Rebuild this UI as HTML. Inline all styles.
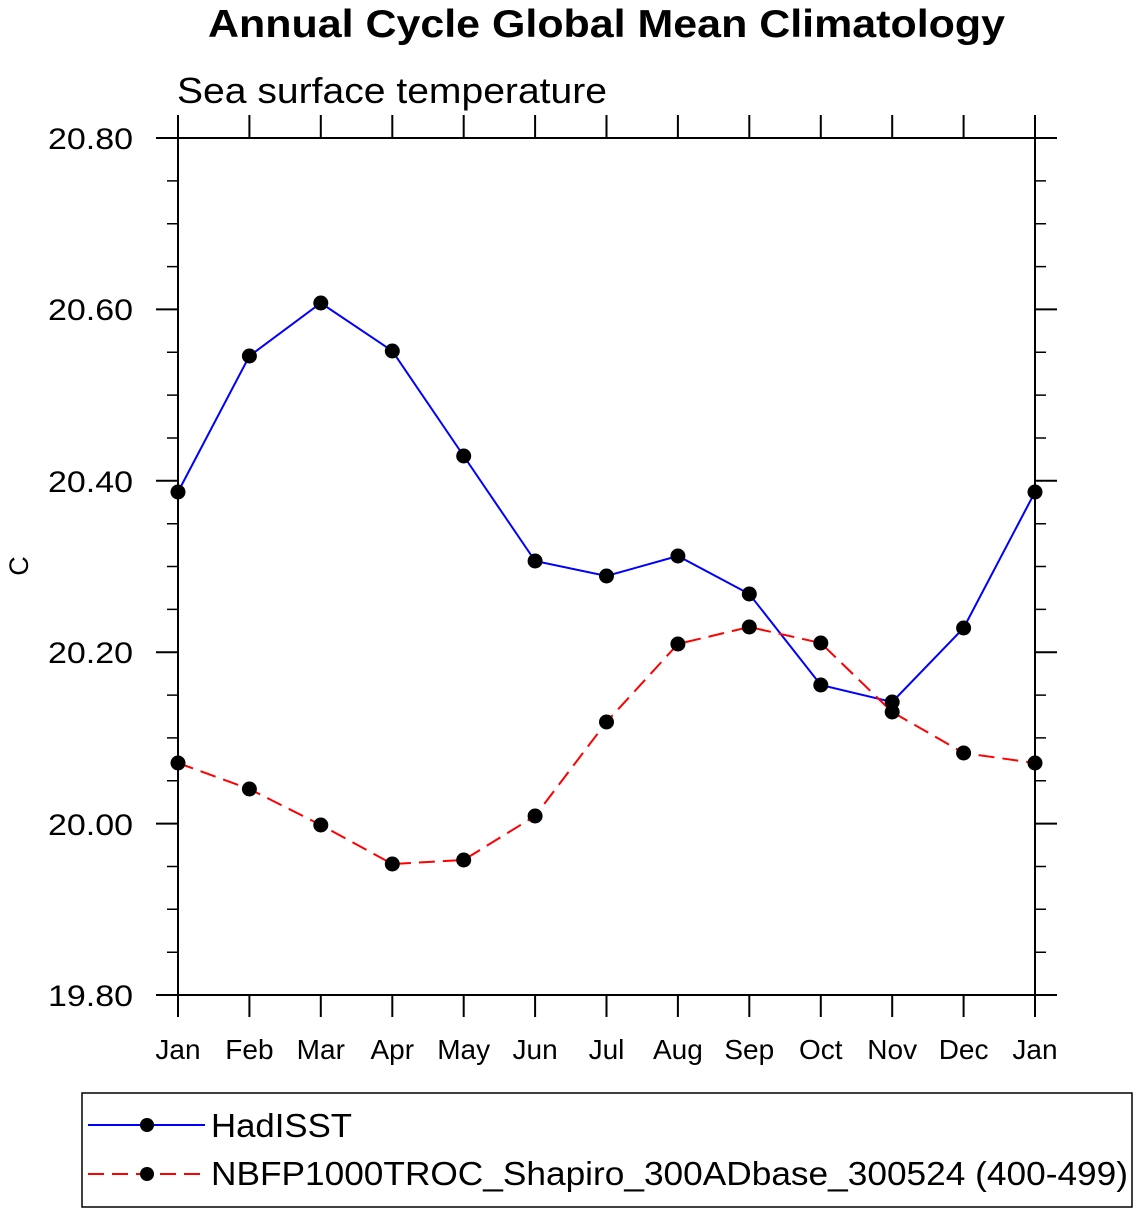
<!DOCTYPE html><html><head><style>body{margin:0;background:#fff}</style></head><body>
<svg width="1138" height="1214" xmlns="http://www.w3.org/2000/svg" font-family="Liberation Sans, Arial, sans-serif">
<text x="208" y="37" font-size="39" font-weight="bold" textLength="797" lengthAdjust="spacingAndGlyphs">Annual Cycle Global Mean Climatology</text>
<text x="177" y="103" font-size="36" textLength="430" lengthAdjust="spacingAndGlyphs">Sea surface temperature</text>
<text transform="translate(28,566) rotate(-90)" text-anchor="middle" font-size="27">C</text>
<g stroke="#000" stroke-width="2" fill="none">
<line x1="156" y1="138" x2="1057" y2="138"/>
<line x1="156" y1="995" x2="1057" y2="995"/>
<line x1="178" y1="115" x2="178" y2="1017"/>
<line x1="1035" y1="115" x2="1035" y2="1017"/>
<path d="M249.4 138V115M320.8 138V115M392.3 138V115M463.7 138V115M535.1 138V115M606.5 138V115M677.9 138V115M749.3 138V115M820.8 138V115M892.2 138V115M963.6 138V115M249.4 995V1017M320.8 995V1017M392.3 995V1017M463.7 995V1017M535.1 995V1017M606.5 995V1017M677.9 995V1017M749.3 995V1017M820.8 995V1017M892.2 995V1017M963.6 995V1017"/>
<path d="M156 309.4H178M156 480.8H178M156 652.2H178M156 823.6H178M1035 309.4H1057M1035 480.8H1057M1035 652.2H1057M1035 823.6H1057"/>
<path stroke-width="1.5" d="M167 180.9H178M167 223.7H178M167 266.6H178M167 352.3H178M167 395.1H178M167 438H178M167 523.7H178M167 566.5H178M167 609.4H178M167 695.1H178M167 737.9H178M167 780.8H178M167 866.5H178M167 909.3H178M167 952.2H178M1035 180.9H1046M1035 223.7H1046M1035 266.6H1046M1035 352.3H1046M1035 395.1H1046M1035 438H1046M1035 523.7H1046M1035 566.5H1046M1035 609.4H1046M1035 695.1H1046M1035 737.9H1046M1035 780.8H1046M1035 866.5H1046M1035 909.3H1046M1035 952.2H1046"/>
</g>
<g font-size="30">
<text x="48" y="149" textLength="85" lengthAdjust="spacingAndGlyphs">20.80</text><text x="48" y="320" textLength="85" lengthAdjust="spacingAndGlyphs">20.60</text><text x="48" y="492" textLength="85" lengthAdjust="spacingAndGlyphs">20.40</text><text x="48" y="663" textLength="85" lengthAdjust="spacingAndGlyphs">20.20</text><text x="48" y="835" textLength="85" lengthAdjust="spacingAndGlyphs">20.00</text><text x="48" y="1006" textLength="85" lengthAdjust="spacingAndGlyphs">19.80</text>
</g>
<g font-size="28" text-anchor="middle">
<text x="178" y="1059">Jan</text><text x="249.4" y="1059">Feb</text><text x="320.8" y="1059">Mar</text><text x="392.3" y="1059">Apr</text><text x="463.7" y="1059">May</text><text x="535.1" y="1059">Jun</text><text x="606.5" y="1059">Jul</text><text x="677.9" y="1059">Aug</text><text x="749.3" y="1059">Sep</text><text x="820.8" y="1059">Oct</text><text x="892.2" y="1059">Nov</text><text x="963.6" y="1059">Dec</text><text x="1035" y="1059">Jan</text>
</g>
<polyline fill="none" stroke="#00f" stroke-width="2" points="178,492 249.4,356 320.8,303 392.3,351 463.7,456 535.1,561 606.5,576 677.9,556 749.3,594 820.8,685 892.2,702 963.6,628 1035,492"/>
<polyline fill="none" stroke="#f00" stroke-width="2" stroke-dasharray="16,8" points="178,763 249.4,789 320.8,825 392.3,864 463.7,860 535.1,816 606.5,722 677.9,644 749.3,627 820.8,643 892.2,712 963.6,753 1035,763"/>
<g fill="#000">
<circle cx="178" cy="492" r="7.5"/><circle cx="249.4" cy="356" r="7.5"/><circle cx="320.8" cy="303" r="7.5"/><circle cx="392.3" cy="351" r="7.5"/><circle cx="463.7" cy="456" r="7.5"/><circle cx="535.1" cy="561" r="7.5"/><circle cx="606.5" cy="576" r="7.5"/><circle cx="677.9" cy="556" r="7.5"/><circle cx="749.3" cy="594" r="7.5"/><circle cx="820.8" cy="685" r="7.5"/><circle cx="892.2" cy="702" r="7.5"/><circle cx="963.6" cy="628" r="7.5"/><circle cx="1035" cy="492" r="7.5"/>
<circle cx="178" cy="763" r="7.5"/><circle cx="249.4" cy="789" r="7.5"/><circle cx="320.8" cy="825" r="7.5"/><circle cx="392.3" cy="864" r="7.5"/><circle cx="463.7" cy="860" r="7.5"/><circle cx="535.1" cy="816" r="7.5"/><circle cx="606.5" cy="722" r="7.5"/><circle cx="677.9" cy="644" r="7.5"/><circle cx="749.3" cy="627" r="7.5"/><circle cx="820.8" cy="643" r="7.5"/><circle cx="892.2" cy="712" r="7.5"/><circle cx="963.6" cy="753" r="7.5"/><circle cx="1035" cy="763" r="7.5"/>
</g>
<rect x="82" y="1093" width="1050" height="114" fill="none" stroke="#000" stroke-width="1.5"/>
<line x1="88" y1="1125" x2="205" y2="1125" stroke="#00f" stroke-width="2"/>
<line x1="88" y1="1174" x2="205" y2="1174" stroke="#f00" stroke-width="2" stroke-dasharray="16,8"/>
<circle cx="147" cy="1125" r="7"/><circle cx="147" cy="1174" r="7"/>
<g font-size="33"><text x="211" y="1137" textLength="141" lengthAdjust="spacingAndGlyphs">HadISST</text><text x="211" y="1185" textLength="917" lengthAdjust="spacingAndGlyphs">NBFP1000TROC_Shapiro_300ADbase_300524 (400-499)</text></g>
</svg></body></html>
